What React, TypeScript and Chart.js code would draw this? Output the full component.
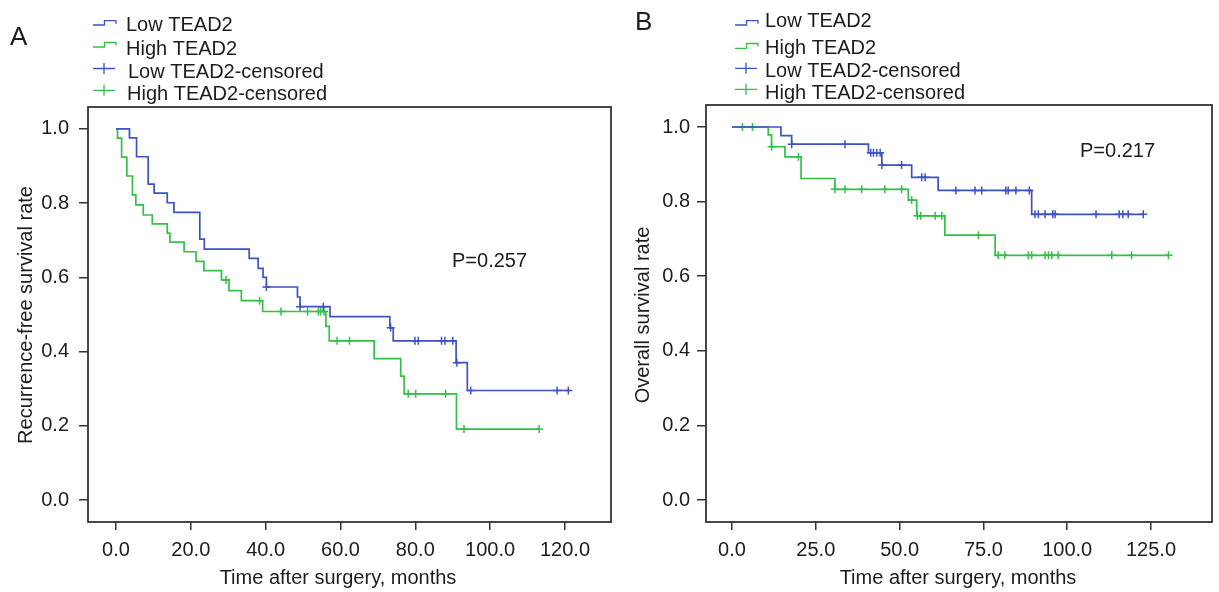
import React, { useEffect, useRef } from "react";
import { Chart, registerables } from "chart.js";

Chart.register(...registerables);

const BLUE = "rgb(62,82,196)";
const GREEN = "rgb(50,192,70)";
const INK = "#1c1c1c";
const FONT = "'Liberation Sans', Arial, Helvetica, sans-serif";

// ---------- Panel A: recurrence-free survival ----------
const aLowTimes = [0, 3.6, 5.5, 8.6, 10.2, 13.7, 15.5, 22.4, 23.6, 35.6, 38.0, 39.3, 40.2, 48.5, 49.2, 57.2, 73.2, 74.1, 90.9, 93.9, 121.3];
const aLowSurv = [1.0, 0.976, 0.925, 0.851, 0.827, 0.801, 0.775, 0.703, 0.676, 0.651, 0.624, 0.6, 0.574, 0.547, 0.521, 0.494, 0.464, 0.429, 0.37, 0.295, 0.295];
const aLowCensT = [40.2, 49.2, 55.4, 73.4, 79.9, 80.8, 87.0, 87.9, 90.0, 91.1, 94.8, 117.9, 120.9];
const aLowCensS = [0.574, 0.521, 0.521, 0.464, 0.429, 0.429, 0.429, 0.429, 0.429, 0.37, 0.295, 0.295, 0.295];

const aHighTimes = [0, 0.4, 1.5, 2.9, 4.4, 5.3, 7.3, 9.7, 13.7, 14.4, 18.2, 21.4, 23.5, 28.2, 30.2, 33.5, 39.2, 56.1, 57.0, 69.0, 76.1, 77.0, 91.0, 113.1];
const aHighSurv = [1.0, 0.975, 0.924, 0.873, 0.822, 0.795, 0.768, 0.744, 0.719, 0.695, 0.669, 0.643, 0.618, 0.593, 0.564, 0.537, 0.508, 0.468, 0.429, 0.381, 0.334, 0.286, 0.191, 0.191];
const aHighCensT = [29.4, 38.4, 44.1, 51.2, 54.1, 54.7, 55.6, 59.1, 62.4, 78.1, 80.1, 88.1, 93.0, 113.1];
const aHighCensS = [0.593, 0.537, 0.508, 0.508, 0.508, 0.508, 0.508, 0.429, 0.429, 0.286, 0.286, 0.286, 0.191, 0.191];

const aXTicks = [0, 20, 40, 60, 80, 100, 120];

// ---------- Panel B: overall survival ----------
const bLowTimes = [0, 14.6, 17.8, 40.7, 44.7, 53.6, 61.5, 89.4, 122.7];
const bLowSurv = [1.0, 0.977, 0.954, 0.931, 0.898, 0.865, 0.83, 0.766, 0.766];
const bLowCensT = [17.8, 33.7, 41.4, 42.2, 43.2, 44.2, 44.7, 50.6, 56.6, 57.6, 66.8, 72.5, 74.5, 81.7, 82.4, 84.7, 88.7, 90.4, 91.4, 93.4, 95.7, 96.4, 108.6, 115.5, 116.6, 118.2, 122.7];
const bLowCensS = [0.954, 0.954, 0.931, 0.931, 0.931, 0.931, 0.898, 0.898, 0.865, 0.865, 0.83, 0.83, 0.83, 0.83, 0.83, 0.83, 0.83, 0.766, 0.766, 0.766, 0.766, 0.766, 0.766, 0.766, 0.766, 0.766, 0.766];

const bHighTimes = [0, 10.8, 11.8, 15.8, 20.6, 30.7, 52.6, 55.1, 63.5, 78.5, 130.2];
const bHighSurv = [1.0, 0.979, 0.947, 0.92, 0.862, 0.833, 0.804, 0.762, 0.71, 0.656, 0.656];
const bHighCensT = [3.1, 6.1, 11.8, 19.8, 30.7, 33.7, 38.7, 45.6, 50.6, 53.6, 55.3, 56.3, 60.6, 62.6, 73.5, 79.4, 81.4, 88.4, 89.4, 93.4, 94.4, 95.4, 97.3, 113.3, 119.2, 130.2];
const bHighCensS = [1.0, 1.0, 0.947, 0.92, 0.833, 0.833, 0.833, 0.833, 0.833, 0.804, 0.762, 0.762, 0.762, 0.762, 0.71, 0.656, 0.656, 0.656, 0.656, 0.656, 0.656, 0.656, 0.656, 0.656, 0.656, 0.656];

const bXTicks = [0, 25, 50, 75, 100, 125];
const yTicks = [0, 0.2, 0.4, 0.6, 0.8, 1.0];

const legendLabels = ["Low TEAD2", "High TEAD2", "Low TEAD2-censored", "High TEAD2-censored"];

type Txt = { text: string; x: number; y: number; size: number; align?: CanvasTextAlign; baseline?: CanvasTextBaseline; rotate?: boolean };
type Icon = { kind: "step" | "cross"; x1: number; x2: number; y: number; y2: number; color: string };

type Panel = {
  lowT: number[]; lowS: number[]; lowCT: number[]; lowCS: number[];
  highT: number[]; highS: number[]; highCT: number[]; highCS: number[];
  xTicks: number[]; xMin: number; xMax: number; yMin: number; yMax: number;
  pad: { left: number; top: number; right: number; bottom: number };
  yAxisWidth: number; xAxisHeight: number; yPad: number;
  texts: Txt[]; icons: Icon[];
};

const pts = (t: number[], s: number[]) => t.map((x, i) => ({ x, y: s[i] }));

const boxPlugin = {
  id: "boxPlugin",
  afterDatasetsDraw(chart: any) {
    const { ctx, chartArea } = chart;
    ctx.save();
    ctx.strokeStyle = "#333";
    ctx.lineWidth = 1.8;
    ctx.strokeRect(chartArea.left, chartArea.top, chartArea.right - chartArea.left, chartArea.bottom - chartArea.top);
    ctx.restore();
  },
};

const textPlugin = {
  id: "textPlugin",
  afterDraw(chart: any, _args: any, opts: any) {
    const ctx = chart.ctx;
    const texts: Txt[] = opts.texts || [];
    const icons: Icon[] = opts.icons || [];
    ctx.save();
    for (const t of texts) {
      ctx.save();
      ctx.fillStyle = INK;
      ctx.font = `${t.size}px ${FONT}`;
      ctx.textAlign = t.align || "left";
      ctx.textBaseline = t.baseline || "alphabetic";
      ctx.translate(t.x, t.y);
      if (t.rotate) ctx.rotate(-Math.PI / 2);
      ctx.fillText(t.text, 0, 0);
      ctx.restore();
    }
    for (const ic of icons) {
      ctx.strokeStyle = ic.color;
      ctx.lineWidth = 1.3;
      ctx.beginPath();
      if (ic.kind === "step") {
        const mid = (ic.x1 + ic.x2) / 2;
        ctx.moveTo(ic.x1, ic.y);
        ctx.lineTo(mid, ic.y);
        ctx.lineTo(mid, ic.y2);
        ctx.lineTo(ic.x2, ic.y2);
        ctx.lineTo(ic.x2, ic.y2 + 3);
      } else {
        const mid = (ic.x1 + ic.x2) / 2;
        ctx.moveTo(ic.x1, ic.y);
        ctx.lineTo(ic.x2, ic.y);
        ctx.moveTo(mid, ic.y - 5.5);
        ctx.lineTo(mid, ic.y + 5.5);
      }
      ctx.stroke();
    }
    ctx.restore();
  },
};

function build(canvas: HTMLCanvasElement, p: Panel) {
  const stepDs = (data: any, color: string) => ({
    type: "line" as const,
    data,
    borderColor: color,
    borderWidth: 1.7,
    stepped: "before" as const,
    pointRadius: 0,
    fill: false,
    tension: 0,
  });
  const censDs = (data: any, color: string) => ({
    type: "line" as const,
    data,
    showLine: false,
    borderColor: color,
    backgroundColor: color,
    pointStyle: "cross" as const,
    pointRadius: 4,
    pointBorderWidth: 1.5,
    pointBorderColor: color,
  });
  return new Chart(canvas, {
    type: "line",
    data: {
      datasets: [
        stepDs(pts(p.lowT, p.lowS), BLUE),
        stepDs(pts(p.highT, p.highS), GREEN),
        censDs(pts(p.lowCT, p.lowCS), BLUE),
        censDs(pts(p.highCT, p.highCS), GREEN),
      ] as any,
    },
    options: {
      animation: false,
      responsive: false,
      maintainAspectRatio: false,
      devicePixelRatio: 1,
      layout: { padding: p.pad },
      plugins: {
        legend: { display: false },
        tooltip: { enabled: false },
        textPlugin: { texts: p.texts, icons: p.icons },
      } as any,
      scales: {
        x: {
          type: "linear",
          min: p.xMin,
          max: p.xMax,
          afterBuildTicks: (s: any) => { s.ticks = p.xTicks.map((v) => ({ value: v })); },
          afterFit: (s: any) => { s.height = p.xAxisHeight; },
          border: { display: false },
          grid: { display: true, drawOnChartArea: false, drawTicks: true, tickLength: 8, color: "#333", lineWidth: 1.5 },
          ticks: {
            autoSkip: false, maxRotation: 0, padding: 8, color: INK,
            font: { family: FONT, size: 20 },
            callback: (v: any) => Number(v).toFixed(1),
          },
        },
        y: {
          type: "linear",
          min: p.yMin,
          max: p.yMax,
          afterBuildTicks: (s: any) => { s.ticks = yTicks.map((v) => ({ value: v })); },
          afterFit: (s: any) => { s.width = p.yAxisWidth; },
          border: { display: false },
          grid: { display: true, drawOnChartArea: false, drawTicks: true, tickLength: 9, color: "#333", lineWidth: 1.5 },
          ticks: {
            autoSkip: false, padding: p.yPad, color: INK,
            font: { family: FONT, size: 20 },
            callback: (v: any) => Number(v).toFixed(1),
          },
        },
      },
    } as any,
    plugins: [boxPlugin, textPlugin],
  });
}

const W = 1219;
const H = 592;

const panelA: Panel = {
  lowT: aLowTimes, lowS: aLowSurv, lowCT: aLowCensT, lowCS: aLowCensS,
  highT: aHighTimes, highS: aHighSurv, highCT: aHighCensT, highCS: aHighCensS,
  xTicks: aXTicks, xMin: -7.48, xMax: 132.3, yMin: -0.0593, yMax: 1.059,
  pad: { left: 0, top: 107, right: W - 611, bottom: 0 },
  yAxisWidth: 88, xAxisHeight: H - 522, yPad: 10,
  texts: [
    { text: "A", x: 10, y: 45, size: 26 },
    { text: legendLabels[0], x: 126, y: 30.7, size: 20 },
    { text: legendLabels[1], x: 126, y: 54.5, size: 20 },
    { text: legendLabels[2], x: 128, y: 78, size: 20 },
    { text: legendLabels[3], x: 127, y: 99.7, size: 20 },
    { text: "P=0.257", x: 452, y: 266.5, size: 20 },
    { text: "Time after surgery, months", x: 338, y: 584, size: 20, align: "center" },
    { text: "Recurrence-free survival rate", x: 26, y: 315, size: 20, align: "center", baseline: "middle", rotate: true },
  ],
  icons: [
    { kind: "step", x1: 93, x2: 116, y: 25, y2: 20.7, color: BLUE },
    { kind: "step", x1: 93, x2: 116, y: 47, y2: 42.5, color: GREEN },
    { kind: "cross", x1: 93, x2: 115, y: 68.5, y2: 0, color: BLUE },
    { kind: "cross", x1: 93, x2: 115, y: 90.3, y2: 0, color: GREEN },
  ],
};

const panelB: Panel = {
  lowT: bLowTimes, lowS: bLowSurv, lowCT: bLowCensT, lowCS: bLowCensS,
  highT: bHighTimes, highS: bHighSurv, highCT: bHighCensT, highCS: bHighCensS,
  xTicks: bXTicks, xMin: -7.76, xMax: 143.2, yMin: -0.059, yMax: 1.059,
  pad: { left: 615, top: 105, right: W - 1212, bottom: 0 },
  yAxisWidth: 91, xAxisHeight: H - 522, yPad: 7,
  texts: [
    { text: "B", x: 635, y: 30, size: 26 },
    { text: legendLabels[0], x: 765, y: 27.3, size: 20 },
    { text: legendLabels[1], x: 765, y: 54, size: 20 },
    { text: legendLabels[2], x: 765, y: 77.3, size: 20 },
    { text: legendLabels[3], x: 765, y: 99, size: 20 },
    { text: "P=0.217", x: 1080, y: 157, size: 20 },
    { text: "Time after surgery, months", x: 958, y: 584, size: 20, align: "center" },
    { text: "Overall survival rate", x: 643, y: 315, size: 20, align: "center", baseline: "middle", rotate: true },
  ],
  icons: [
    { kind: "step", x1: 735, x2: 758, y: 25, y2: 20.7, color: BLUE },
    { kind: "step", x1: 735, x2: 758, y: 48.3, y2: 43.5, color: GREEN },
    { kind: "cross", x1: 735, x2: 757, y: 68.3, y2: 0, color: BLUE },
    { kind: "cross", x1: 735, x2: 757, y: 89.3, y2: 0, color: GREEN },
  ],
};

export default function App() {
  const refA = useRef<HTMLCanvasElement | null>(null);
  const refB = useRef<HTMLCanvasElement | null>(null);
  useEffect(() => {
    const cA = build(refA.current as HTMLCanvasElement, panelA);
    const cB = build(refB.current as HTMLCanvasElement, panelB);
    return () => {
      cA.destroy();
      cB.destroy();
    };
  }, []);
  const cs: React.CSSProperties = { position: "absolute", left: 0, top: 0, width: W, height: H, display: "block" };
  return (
    <div style={{ position: "fixed", left: 0, top: 0, width: W, height: H, background: "#fff", overflow: "hidden" }}>
      <canvas ref={refA} width={W} height={H} style={cs} />
      <canvas ref={refB} width={W} height={H} style={cs} />
    </div>
  );
}
